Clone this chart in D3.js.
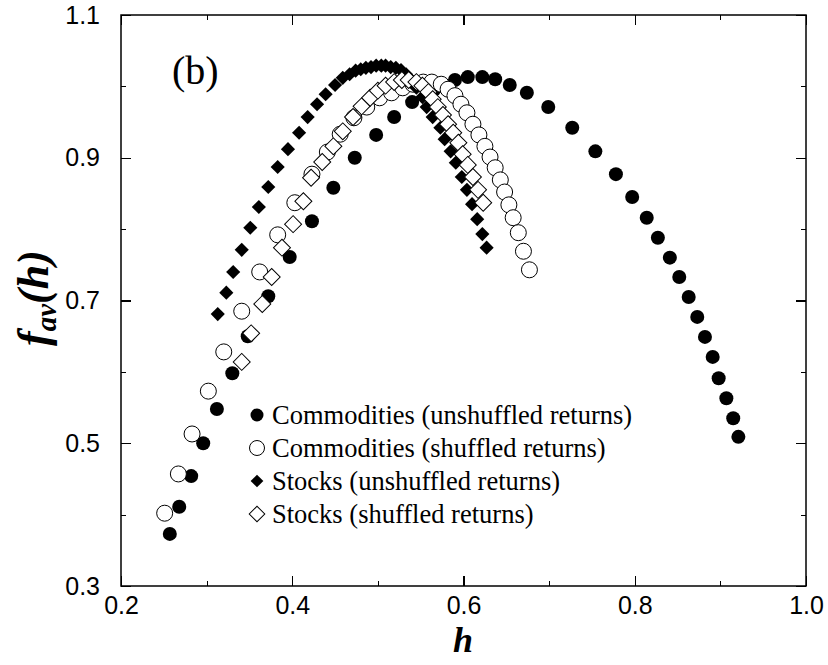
<!DOCTYPE html>
<html>
<head>
<meta charset="utf-8">
<script src="https://d3js.org/d3.v7.min.js"></script>
<style>
  body { margin: 0; background: #fff; }
  .axis line { stroke: #000; stroke-width: 1.2; shape-rendering: crispEdges; }
  .axis path { display: none; }
  .axis text { font-family: "Liberation Sans", Arial, sans-serif; font-size: 25px; fill: #000; }
</style>
</head>
<body>
<div id="chart"></div>
<script>
// tick values
const xMajor = [0.2, 0.4, 0.6, 0.8, 1.0];
const xMinor = [0.3, 0.5, 0.7, 0.9];
const yMajor = [0.3, 0.5, 0.7, 0.9, 1.1];
const yMinor = [0.4, 0.6, 0.8, 1.0];

// Commodities (unshuffled returns) - filled circles
const comUnshH = [0.257,0.268,0.282,0.296,0.312,0.330,0.348,0.372,0.397,0.423,0.448,0.473,0.498,0.519,0.540,0.566,0.590,0.605,0.622,0.637,0.654,0.674,0.699,0.727,0.754,0.778,0.797,0.814,0.827,0.841,0.852,0.863,0.873,0.882,0.891,0.898,0.907,0.915,0.921];
const comUnshF = [0.373,0.411,0.454,0.500,0.548,0.598,0.650,0.706,0.761,0.811,0.858,0.900,0.932,0.957,0.978,0.996,1.009,1.013,1.013,1.010,1.002,0.991,0.971,0.942,0.909,0.877,0.845,0.816,0.788,0.760,0.733,0.705,0.677,0.649,0.621,0.591,0.563,0.535,0.509];

// Commodities (shuffled returns) - open circles
const comShH = [0.251,0.267,0.283,0.302,0.320,0.341,0.362,0.383,0.403,0.423,0.441,0.456,0.472,0.487,0.502,0.516,0.529,0.541,0.553,0.563,0.574,0.582,0.590,0.597,0.604,0.611,0.618,0.625,0.631,0.637,0.643,0.648,0.653,0.658,0.664,0.670,0.677];
const comShF = [0.402,0.457,0.513,0.573,0.628,0.685,0.740,0.792,0.837,0.877,0.908,0.933,0.956,0.971,0.984,0.991,0.998,1.003,1.006,1.006,1.003,0.996,0.987,0.975,0.963,0.947,0.932,0.916,0.901,0.886,0.869,0.852,0.834,0.816,0.795,0.769,0.743];

// Stocks (unshuffled returns) - filled diamonds
const stUnshH = [0.313,0.323,0.331,0.341,0.351,0.361,0.372,0.383,0.395,0.408,0.418,0.429,0.439,0.450,0.459,0.467,0.474,0.480,0.486,0.492,0.498,0.504,0.509,0.515,0.521,0.527,0.533,0.539,0.545,0.552,0.557,0.564,0.573,0.578,0.585,0.591,0.598,0.604,0.610,0.616,0.622,0.627];
const stUnshF = [0.681,0.711,0.740,0.771,0.802,0.831,0.859,0.887,0.912,0.935,0.957,0.975,0.989,1.002,1.012,1.017,1.022,1.024,1.026,1.027,1.029,1.029,1.029,1.027,1.026,1.023,1.017,1.009,0.998,0.985,0.971,0.957,0.942,0.926,0.909,0.893,0.873,0.855,0.835,0.814,0.793,0.774];

// Stocks (shuffled returns) - open diamonds
const stShH = [0.341,0.352,0.365,0.376,0.388,0.401,0.413,0.422,0.435,0.448,0.459,0.471,0.481,0.491,0.500,0.509,0.519,0.528,0.536,0.545,0.552,0.559,0.564,0.570,0.576,0.582,0.588,0.594,0.599,0.605,0.611,0.617,0.623];
const stShF = [0.614,0.654,0.695,0.733,0.774,0.807,0.839,0.872,0.894,0.916,0.937,0.957,0.972,0.984,0.994,1.001,1.006,1.009,1.009,1.006,1.001,0.992,0.982,0.971,0.960,0.947,0.935,0.921,0.905,0.890,0.873,0.855,0.837];

const legendLabels = ["Commodities (unshuffled returns)", "Commodities (shuffled returns)",
                      "Stocks (unshuffled returns)", "Stocks (shuffled returns)"];

const W = 828, H = 665;
const margin = { top: 15, right: 22, bottom: 79, left: 121 };
const width = W - margin.left - margin.right;
const height = H - margin.top - margin.bottom;

const svg = d3.select("#chart").append("svg")
  .attr("width", W).attr("height", H)
  .append("g")
  .attr("transform", `translate(${margin.left},${margin.top})`);

const x = d3.scaleLinear().domain([0.2, 1.0]).range([0, width]);
const y = d3.scaleLinear().domain([0.3, 1.1]).range([height, 0]);

// axes with inward ticks on all four sides
function addAxis(axisFn, scale, vals, size, tf, pad) {
  const a = axisFn(scale).tickValues(vals).tickSize(-size).tickPadding(pad || 0);
  if (pad) a.tickFormat(d3.format(".1f")); else a.tickFormat("");
  svg.append("g").attr("class", "axis").attr("transform", tf).call(a);
}
addAxis(d3.axisBottom, x, xMajor, 10, `translate(0,${height})`, 10);
addAxis(d3.axisBottom, x, xMinor, 5, `translate(0,${height})`);
addAxis(d3.axisTop, x, xMajor, 10, "");
addAxis(d3.axisTop, x, xMinor, 5, "");
addAxis(d3.axisLeft, y, yMajor, 10, "", 21);
addAxis(d3.axisLeft, y, yMinor, 5, "");
addAxis(d3.axisRight, y, yMajor, 10, `translate(${width},0)`);
addAxis(d3.axisRight, y, yMinor, 5, `translate(${width},0)`);

// frame
svg.append("rect")
  .attr("width", width).attr("height", height)
  .attr("fill", "none").attr("stroke", "#000").attr("stroke-width", 1.5);

const diamond = s => d3.symbol(d3.symbolSquare, s * s);

function zip(hs, fs) { return hs.map((h, i) => ({ h: h, f: fs[i] })); }

// filled circles
svg.append("g").selectAll("circle").data(zip(comUnshH, comUnshF)).enter().append("circle")
  .attr("cx", d => x(d.h)).attr("cy", d => y(d.f)).attr("r", 7).attr("fill", "#000");

// open circles
svg.append("g").selectAll("circle").data(zip(comShH, comShF)).enter().append("circle")
  .attr("cx", d => x(d.h)).attr("cy", d => y(d.f)).attr("r", 8)
  .attr("fill", "#fff").attr("stroke", "#000").attr("stroke-width", 1);

// filled diamonds
svg.append("g").selectAll("path").data(zip(stUnshH, stUnshF)).enter().append("path")
  .attr("d", diamond(10))
  .attr("transform", d => `translate(${x(d.h)},${y(d.f)}) rotate(45)`)
  .attr("fill", "#000");

// open diamonds
svg.append("g").selectAll("path").data(zip(stShH, stShF)).enter().append("path")
  .attr("d", diamond(12))
  .attr("transform", d => `translate(${x(d.h)},${y(d.f)}) rotate(45)`)
  .attr("fill", "#fff").attr("stroke", "#000").attr("stroke-width", 1);

// legend
const lg = svg.append("g").attr("transform", `translate(${257 - margin.left},${415 - margin.top})`);
const rowH = 33;
lg.append("circle").attr("cx", 0).attr("cy", 0).attr("r", 6.5).attr("fill", "#000");
lg.append("circle").attr("cx", 0).attr("cy", rowH).attr("r", 7.5)
  .attr("fill", "#fff").attr("stroke", "#000");
lg.append("path").attr("d", diamond(9)).attr("transform", `translate(0,${rowH * 2}) rotate(45)`).attr("fill", "#000");
lg.append("path").attr("d", diamond(11)).attr("transform", `translate(0,${rowH * 3}) rotate(45)`)
  .attr("fill", "#fff").attr("stroke", "#000");
lg.selectAll("text").data(legendLabels).enter().append("text")
  .attr("x", 15).attr("y", (d, i) => i * rowH + 9)
  .attr("font-family", "Liberation Serif, Times New Roman, serif")
  .attr("font-size", 26.5)
  .text(d => d);

// panel label
svg.append("text")
  .attr("x", 172 - margin.left).attr("y", 84 - margin.top)
  .attr("font-family", "Liberation Serif, Times New Roman, serif")
  .attr("font-size", 40)
  .text("(b)");

// axis titles
svg.append("text")
  .attr("x", 463 - margin.left).attr("y", 652 - margin.top)
  .attr("text-anchor", "middle")
  .attr("font-family", "Liberation Serif, Times New Roman, serif")
  .attr("font-size", 36).attr("font-weight", "bold").attr("font-style", "italic")
  .text("h");

const yt = svg.append("text")
  .attr("transform", `translate(${48 - margin.left},${298 - margin.top}) rotate(-90)`)
  .attr("text-anchor", "middle")
  .attr("font-family", "Liberation Serif, Times New Roman, serif")
  .attr("font-size", 44).attr("font-weight", "bold").attr("font-style", "italic");
yt.append("tspan").text("f");
yt.append("tspan").attr("font-size", 29).attr("dy", 8).text("av");
yt.append("tspan").attr("dy", -8).text("(h)");
</script>
</body>
</html>
